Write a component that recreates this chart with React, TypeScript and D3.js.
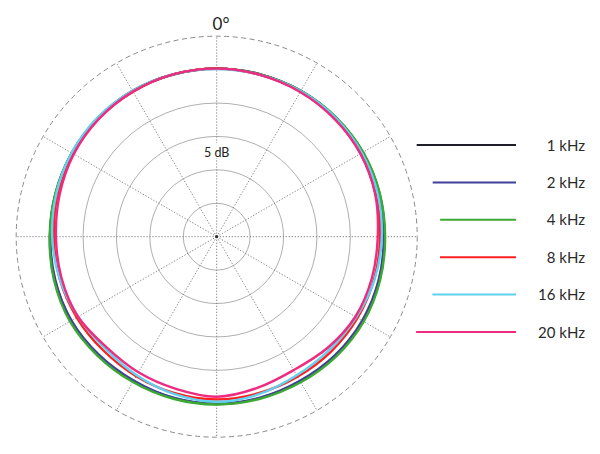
import * as d3 from "d3";

// angle of each measurement, degrees clockwise from 0° (front)
const angles = [0, 15, 30, 45, 60, 75, 90, 105, 120, 135, 150, 165, 180, 195, 210, 225, 240, 255, 270, 285, 300, 315, 330, 345];

// level in dB relative to the 0 dB ring
const db1k = [0.15, 0.15, 0.2, 0.2, 0.25, 0.2, 0.1, 0.2, 0.25, 0.15, 0, 0, 0.05, 0, 0, 0.1, 0.2, 0.1, -0.05, -0.05, 0.05, 0.1, 0.2, 0.15];
const db2k = [0.15, 0.15, 0.15, 0.2, 0.2, 0.1, 0, 0.1, 0.15, 0.05, -0.1, -0.05, 0, -0.05, -0.15, -0.05, 0.1, 0, -0.1, -0.05, 0, 0.1, 0.15, 0.15];
const db4k = [0.15, 0.15, 0.2, 0.25, 0.3, 0.25, 0.2, 0.3, 0.4, 0.3, 0.15, 0.1, 0.1, 0.1, 0.1, 0.2, 0.35, 0.2, 0, 0, 0.05, 0.1, 0.15, 0.15];
const db8k = [0.15, 0.07, 0.07, 0, -0.15, -0.37, -0.55, -0.6, -0.67, -0.75, -0.82, -0.75, -0.64, -0.75, -0.9, -0.97, -0.82, -0.67, -0.64, -0.37, -0.15, 0, 0.07, 0.15];
const db16k = [0.07, 0.07, 0.15, 0.15, 0.07, -0.07, -0.3, -0.52, -0.9, -1.12, -1.05, -0.6, -0.3, -0.6, -1.05, -1.35, -1.05, -0.67, -0.39, -0.15, 0.07, 0.22, 0.22, 0.15];
const db20k = [0.15, 0.07, 0, -0.07, -0.15, -0.45, -0.9, -0.97, -1.05, -1.5, -1.95, -1.57, -1.05, -1.42, -1.57, -1.65, -1.05, -0.97, -0.95, -0.67, -0.3, -0.07, 0.07, 0.15];

const seriesNames = ["1 kHz", "2 kHz", "4 kHz", "8 kHz", "16 kHz", "20 kHz"];
const seriesValues = [db1k, db2k, db4k, db8k, db16k, db20k];
const seriesColors = ["#1f1f2b", "#3f3f9c", "#3da832", "#ff1f1f", "#5fd2f0", "#ee2b80"];

const ringLevels = [-20, -15, -10, -5, 0];
const outerLevel = 5;
const spokeAngles = [0, 30, 60, 90, 120, 150, 180, 210, 240, 270, 300, 330];

const W = 600;
const H = 454;
const cx = 216.7;
const cy = 236.7;
const font = "Lato, 'Open Sans', sans-serif";

export default function App() {
  const r = d3.scaleLinear().domain([-25, outerLevel]).range([0, 200.5]);
  const rad = (deg: number) => (deg * Math.PI) / 180;

  const radial = d3
    .lineRadial<number>()
    .angle((_, i) => rad(angles[i]))
    .radius((v) => r(v))
    .curve(d3.curveCatmullRomClosed.alpha(0.5));

  const legendY = d3.scalePoint<string>().domain(seriesNames).range([145, 332]);
  // legend lines start on an arc that echoes the plot
  const legendStart = (y: number) => 251 + Math.sqrt(190 * 190 - (y - 238) * (y - 238));

  return (
    <svg
      width={W}
      height={H}
      style={{ position: "absolute", left: 0, top: 0, background: "#fff" }}
    >
      <g transform={`translate(${cx},${cy})`}>
        {ringLevels.map((lv) => (
          <circle key={lv} r={r(lv)} fill="none" stroke="#9a9a9a" strokeWidth={0.8} />
        ))}
        <circle r={r(outerLevel)} fill="none" stroke="#8a8a8a" strokeWidth={1} strokeDasharray="5,3.5" />
        {spokeAngles.map((a) => (
          <line
            key={a}
            x1={0}
            y1={0}
            x2={r(outerLevel) * Math.sin(rad(a))}
            y2={-r(outerLevel) * Math.cos(rad(a))}
            stroke="#7a7a7a"
            strokeWidth={0.9}
            strokeDasharray="1.3,1.7"
          />
        ))}
        <circle r={1.6} fill="#333" />

        {/* label for ring spacing */}
        <rect x={-14} y={-r(-12.2) - 8} width={28} height={15} fill="#fff" />
        <text
          x={0}
          y={-r(-12.4) + 4.5}
          textAnchor="middle"
          fontFamily={font}
          fontSize={12.5}
          fill="#222"
        >
          5 dB
        </text>

        {seriesValues.map((vals, i) => (
          <path
            key={seriesNames[i]}
            d={radial(vals) ?? ""}
            fill="none"
            stroke={seriesColors[i]}
            strokeWidth={2.4}
          />
        ))}
      </g>

      <text x={221} y={30} textAnchor="middle" fontFamily={font} fontSize={17} fill="#222">
        0°
      </text>

      {seriesNames.map((name, i) => {
        const y = legendY(name) ?? 0;
        return (
          <g key={name}>
            <line x1={legendStart(y)} x2={516} y1={y} y2={y} stroke={seriesColors[i]} strokeWidth={2} />
            <text x={585} y={y + 5.5} textAnchor="end" fontFamily={font} fontSize={15} fill="#2a2a2a">
              {name}
            </text>
          </g>
        );
      })}
    </svg>
  );
}
